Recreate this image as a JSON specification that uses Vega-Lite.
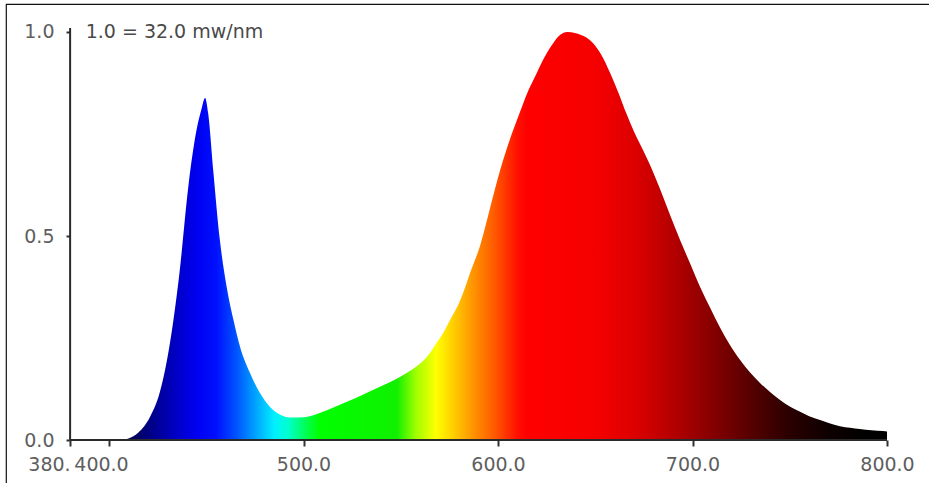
{
  "$schema": "https://vega.github.io/schema/vega-lite/v6.json",
  "autosize": {"type": "none"},
  "width": 926,
  "height": 482,
  "padding": {"left": 6, "top": 4, "right": -3, "bottom": -3},
  "background": "white",
  "config": {
    "view": {"stroke": "#111111", "strokeWidth": 1.2},
    "axis": {"grid": false, "labelFont": "DejaVu Sans", "labelFontSize": 19, "labelColor": "#5e5e5e", "tickColor": "#333333", "tickWidth": 2}
  },
  "datasets": {
    "spectrum": [
      {"nm": 405, "v": 0}, {"nm": 410, "v": 0.004}, {"nm": 415, "v": 0.018}, {"nm": 421, "v": 0.056},
      {"nm": 426, "v": 0.115}, {"nm": 431, "v": 0.228}, {"nm": 436, "v": 0.40}, {"nm": 441, "v": 0.63},
      {"nm": 445, "v": 0.76}, {"nm": 447.5, "v": 0.81}, {"nm": 449.4, "v": 0.838}, {"nm": 451, "v": 0.80},
      {"nm": 453.6, "v": 0.66}, {"nm": 457, "v": 0.49}, {"nm": 460.5, "v": 0.375}, {"nm": 464, "v": 0.294},
      {"nm": 467.4, "v": 0.228}, {"nm": 472.5, "v": 0.164}, {"nm": 477.6, "v": 0.115}, {"nm": 482.8, "v": 0.081},
      {"nm": 488, "v": 0.062}, {"nm": 494, "v": 0.055}, {"nm": 500, "v": 0.056}, {"nm": 505, "v": 0.061},
      {"nm": 513, "v": 0.075}, {"nm": 522, "v": 0.093}, {"nm": 530, "v": 0.11}, {"nm": 539, "v": 0.13},
      {"nm": 547, "v": 0.148}, {"nm": 553, "v": 0.164}, {"nm": 558, "v": 0.18}, {"nm": 563.5, "v": 0.204},
      {"nm": 568, "v": 0.235}, {"nm": 572, "v": 0.264}, {"nm": 576, "v": 0.30}, {"nm": 579, "v": 0.326},
      {"nm": 582, "v": 0.36}, {"nm": 585.6, "v": 0.409}, {"nm": 590.7, "v": 0.475}, {"nm": 597.4, "v": 0.596},
      {"nm": 601, "v": 0.66}, {"nm": 606, "v": 0.735}, {"nm": 611, "v": 0.80}, {"nm": 615, "v": 0.85},
      {"nm": 619, "v": 0.89}, {"nm": 623, "v": 0.93}, {"nm": 628, "v": 0.97}, {"nm": 632, "v": 0.993},
      {"nm": 635.5, "v": 1.0}, {"nm": 640, "v": 0.997}, {"nm": 644, "v": 0.99}, {"nm": 649, "v": 0.972},
      {"nm": 653, "v": 0.945}, {"nm": 657.6, "v": 0.90}, {"nm": 662, "v": 0.85}, {"nm": 666, "v": 0.80},
      {"nm": 670, "v": 0.755}, {"nm": 674.6, "v": 0.71}, {"nm": 679, "v": 0.665}, {"nm": 683.3, "v": 0.615},
      {"nm": 688, "v": 0.557}, {"nm": 693.6, "v": 0.49}, {"nm": 699, "v": 0.43}, {"nm": 703.9, "v": 0.375},
      {"nm": 709, "v": 0.325}, {"nm": 714, "v": 0.277}, {"nm": 719, "v": 0.235}, {"nm": 724.5, "v": 0.196},
      {"nm": 729.5, "v": 0.166}, {"nm": 734.7, "v": 0.14}, {"nm": 740, "v": 0.117}, {"nm": 745, "v": 0.098},
      {"nm": 750, "v": 0.082}, {"nm": 755.3, "v": 0.069}, {"nm": 760, "v": 0.058}, {"nm": 765.6, "v": 0.049},
      {"nm": 770, "v": 0.042}, {"nm": 775.8, "v": 0.034}, {"nm": 781, "v": 0.03}, {"nm": 786, "v": 0.027},
      {"nm": 792, "v": 0.024}, {"nm": 798, "v": 0.022}, {"nm": 800, "v": 0.021}
    ]
  },
  "layer": [
    {
      "data": {"name": "spectrum"},
      "mark": {
        "type": "area",
        "interpolate": "monotone",
        "fill": {
          "gradient": "linear", "x1": 0, "y1": 0, "x2": 1, "y2": 0,
          "stops": [
            {"offset": 0, "color": "#000030"},
            {"offset": 0.038, "color": "#000080"},
            {"offset": 0.076, "color": "#0000c8"},
            {"offset": 0.101, "color": "#0000f0"},
            {"offset": 0.127, "color": "#0010ff"},
            {"offset": 0.152, "color": "#0050ff"},
            {"offset": 0.177, "color": "#00a0ff"},
            {"offset": 0.203, "color": "#00f0ff"},
            {"offset": 0.220, "color": "#00ffd0"},
            {"offset": 0.241, "color": "#00ff60"},
            {"offset": 0.261, "color": "#00ff00"},
            {"offset": 0.362, "color": "#10f000"},
            {"offset": 0.387, "color": "#a0ff00"},
            {"offset": 0.413, "color": "#ffff00"},
            {"offset": 0.438, "color": "#ffc800"},
            {"offset": 0.463, "color": "#ff9000"},
            {"offset": 0.489, "color": "#ff5a00"},
            {"offset": 0.519, "color": "#ff1000"},
            {"offset": 0.532, "color": "#ff0000"},
            {"offset": 0.620, "color": "#f50000"},
            {"offset": 0.671, "color": "#dd0000"},
            {"offset": 0.722, "color": "#b40000"},
            {"offset": 0.772, "color": "#870000"},
            {"offset": 0.823, "color": "#560000"},
            {"offset": 0.873, "color": "#2a0000"},
            {"offset": 0.924, "color": "#0e0000"},
            {"offset": 0.975, "color": "#000000"},
            {"offset": 1, "color": "#000000"}
          ]
        }
      },
      "encoding": {
        "x": {
          "field": "nm", "type": "quantitative", "title": null,
          "scale": {"domain": [347.04, 823.13], "nice": false, "zero": false},
          "axis": {
            "title": null, "orient": "bottom", "offset": -46, "domain": false,
            "values": [380, 400, 500, 600, 700, 800],
            "labelExpr": "datum.value == 380 ? '380.' : format(datum.value, '.1f')",
            "labelAlign": {"condition": {"test": "datum.value == 380", "value": "right"}, "value": "center"},
            "labelOffset": {"condition": {"test": "datum.value == 400", "value": -8}, "value": 0},
            "labelOverlap": false, "labelFlush": false, "labelBound": false,
            "tickSize": 6, "labelPadding": 9
          }
        },
        "y": {
          "field": "v", "type": "quantitative", "title": null,
          "scale": {"domain": [-0.1127, 1.0686], "nice": false, "zero": false},
          "axis": {
            "title": null, "orient": "left", "offset": -64, "domain": false,
            "values": [0, 0.5, 1], "format": ".1f",
            "tickSize": 4, "labelPadding": 12, "labelOverlap": false, "labelFlush": false
          }
        }
      }
    },
    {
      "data": {"values": [{"a": 380, "b": 800, "y": 0}]},
      "mark": {"type": "rule", "color": "#2a2a2a", "strokeWidth": 2},
      "encoding": {
        "x": {"field": "a", "type": "quantitative", "title": null},
        "x2": {"field": "b"},
        "y": {"field": "y", "type": "quantitative", "title": null}
      }
    },
    {
      "data": {"values": [{"x": 380, "y1": 0, "y2": 1.01}]},
      "mark": {"type": "rule", "color": "#2a2a2a", "strokeWidth": 2},
      "encoding": {
        "x": {"field": "x", "type": "quantitative", "title": null},
        "y": {"field": "y1", "type": "quantitative", "title": null},
        "y2": {"field": "y2"}
      }
    },
    {
      "data": {"values": [{"x": 388, "y": 1.0, "label": "1.0 = 32.0 mw/nm"}]},
      "mark": {"type": "text", "align": "left", "baseline": "middle", "font": "DejaVu Sans", "fontSize": 19, "color": "#4a4a4a"},
      "encoding": {
        "x": {"field": "x", "type": "quantitative", "title": null},
        "y": {"field": "y", "type": "quantitative", "title": null},
        "text": {"field": "label"}
      }
    }
  ]
}
